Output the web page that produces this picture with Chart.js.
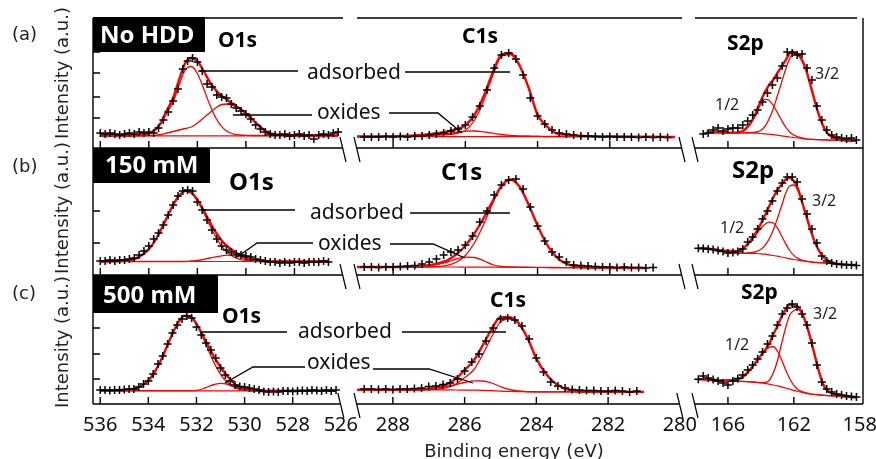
<!DOCTYPE html>
<html>
<head>
<meta charset="utf-8">
<title>XPS O1s / C1s / S2p</title>
<script src="https://cdn.jsdelivr.net/npm/chart.js@4.4.1/dist/chart.umd.min.js"></script>
<style>
  html, body { margin: 0; padding: 0; background: #fff; }
  #fig { position: relative; width: 876px; height: 459px; overflow: hidden; background: #fff; }
  #fig canvas { position: absolute; }
  #overlay { position: absolute; left: 0; top: 0; }
  #overlay text { font-family: "Noto Sans", sans-serif; fill: #000; }
  #overlay .box { fill: #fff; font-weight: bold; font-size: 24px; }
  #overlay .ttl { font-weight: bold; font-size: 21px; }
  #overlay .ttl.big { font-size: 24px; }
  #overlay .lbl { font-size: 21px; fill: #111; }
  #overlay .spin { font-size: 16px; fill: #222; }
  #overlay .row { font-family: "DejaVu Sans", sans-serif; font-size: 18px; fill: #222; }
  #overlay .axt { font-family: "DejaVu Sans", sans-serif; font-size: 18px; fill: #222; }
</style>
</head>
<body>
<div id="fig">
<svg id="overlay" width="876" height="459">
  <g stroke="#000" stroke-width="1.3" fill="none">
    <polyline points="200,71 298,71"/>
    <polyline points="405,72 510,72"/>
    <polyline points="233,115 312,115"/>
    <polyline points="389,113 438,113 462,133"/>
    <polyline points="202,210 295,210"/>
    <polyline points="410,213 510,213"/>
    <polyline points="237,257 257,243 313,243"/>
    <polyline points="390,244 433,244 465,258"/>
    <polyline points="200,332 287,332"/>
    <polyline points="402,332 506,332"/>
    <polyline points="225,383 253,367 305,367"/>
    <polyline points="373,369 429,369 473,383"/>
  </g>
  <rect x="93" y="17" width="112" height="35" fill="#000"/>
  <rect x="93" y="148" width="117" height="35" fill="#000"/>
  <rect x="93" y="275" width="125" height="38" fill="#000"/>
  <text class="box" x="100" y="43">No HDD</text>
  <text class="box" x="105" y="173">150 mM</text>
  <text class="box" x="103" y="303">500 mM</text>

  <text class="row" x="12" y="40">(a)</text>
  <text class="row" x="12" y="172">(b)</text>
  <text class="row" x="12" y="299">(c)</text>

  <text class="axt" transform="translate(68,73) rotate(-90)" text-anchor="middle">Intensity (a.u.)</text>
  <text class="axt" transform="translate(68,208) rotate(-90)" text-anchor="middle">Intensity (a.u.)</text>
  <text class="axt" transform="translate(68,342) rotate(-90)" text-anchor="middle">Intensity (a.u.)</text>
  <text class="axt" x="514" y="457" text-anchor="middle">Binding energy (eV)</text>

  <text class="ttl" x="218" y="47">O1s</text>
  <text class="ttl" x="462" y="43">C1s</text>
  <text class="ttl" x="727" y="50">S2p</text>
  <text class="ttl big" x="229" y="190">O1s</text>
  <text class="ttl big" x="441" y="180">C1s</text>
  <text class="ttl big" x="732" y="178">S2p</text>
  <text class="ttl" x="222" y="323">O1s</text>
  <text class="ttl" x="490" y="307">C1s</text>
  <text class="ttl" x="741" y="299">S2p</text>

  <text class="lbl" x="307" y="79">adsorbed</text>
  <text class="lbl" x="317" y="119">oxides</text>
  <text class="lbl" x="310" y="219">adsorbed</text>
  <text class="lbl" x="318" y="250">oxides</text>
  <text class="lbl" x="298" y="338">adsorbed</text>
  <text class="lbl" x="307" y="369">oxides</text>

  <text class="spin" x="715" y="110">1/2</text>
  <text class="spin" x="815" y="79">3/2</text>
  <text class="spin" x="720" y="233">1/2</text>
  <text class="spin" x="812" y="206">3/2</text>
  <text class="spin" x="725" y="350">1/2</text>
  <text class="spin" x="813" y="319">3/2</text>
</svg>
</div>
<script>
// tick values (eV) of the three broken x segments
const o1sTicks = [536, 534, 532, 530, 528, 526];
const c1sTicks = [288, 286, 284, 282, 280];
const s2pTicks = [166, 162, 158];

// inner y tick positions of each row (a.u.)
const yTicksA = [3, 5.1, 7.5, 9.6];
const yTicksB = [3.2, 6.4, 9.6];
const yTicksC = [2.5, 5.0, 7.6, 10.1];

// measured energies (eV)
const o1sE = [536.0, 535.8, 535.6, 535.4, 535.2, 535.0, 534.8, 534.6, 534.4, 534.2,
  534.0, 533.8, 533.6, 533.4, 533.2, 533.0, 532.8, 532.6, 532.4, 532.2,
  532.0, 531.8, 531.6, 531.4, 531.2, 531.0, 530.8, 530.6, 530.4, 530.2,
  530.0, 529.8, 529.6, 529.4, 529.2, 529.0, 528.8, 528.6, 528.4, 528.2,
  528.0, 527.8, 527.6, 527.4, 527.2, 527.0, 526.8, 526.6, 526.4, 526.2];
const c1sE = [288.8, 288.6, 288.4, 288.2, 288.0, 287.8, 287.6, 287.4, 287.2, 287.0,
  286.8, 286.6, 286.4, 286.2, 286.0, 285.8, 285.6, 285.4, 285.2, 285.0,
  284.8, 284.6, 284.4, 284.2, 284.0, 283.8, 283.6, 283.4, 283.2, 283.0,
  282.8, 282.6, 282.4, 282.2, 282.0, 281.8, 281.6, 281.4, 281.2, 281.0,
  280.8, 280.6, 280.4];
const s2pE = [167.8, 167.5, 167.2, 166.9, 166.6, 166.3, 166.0, 165.7, 165.4, 165.1, 164.8,
  164.5, 164.2, 163.9, 163.6, 163.3, 163.0, 162.7, 162.4, 162.1, 161.8,
  161.5, 161.2, 160.9, 160.6, 160.3, 160.0, 159.7, 159.4, 159.1, 158.8,
  158.5, 158.2];

// energies at which the fitted curves are given (eV)
const o1sFitE = [536, 535, 534.5, 534, 533.75, 533.5, 533.25, 533, 532.75, 532.5, 532.25, 532,
  531.75, 531.5, 531.25, 531, 530.75, 530.5, 530.25, 530, 529.75, 529.5, 529.25, 529,
  528.5, 528, 526.6, 526.2];
const c1sFitE = [289, 288, 287.5, 287, 286.5, 286.25, 286, 285.75, 285.5, 285.25, 285, 284.75,
  284.5, 284.25, 284, 283.75, 283.5, 283.25, 283, 282.5, 282, 281, 280.2];
const s2pFitE = [167.8, 167.3, 166.5, 165.5, 165, 164.5, 164.25, 164, 163.75, 163.5, 163.25, 163,
  162.75, 162.5, 162.25, 162, 161.75, 161.5, 161.25, 161, 160.75, 160.5, 160.25, 160,
  159.5, 159, 158.2];

// (a) No HDD
const aO1sData = [1.5, 1.4, 1.5, 1.4, 1.3, 1.4, 1.5, 1.4, 1.6, 1.5,
  1.6, 1.5, 2.0, 2.8, 3.6, 4.7, 5.9, 7.9, 8.7, 9.0,
  8.6, 7.7, 6.4, 6.1, 5.3, 5.1, 5.0, 4.4, 4.0, 3.7,
  3.4, 2.9, 2.3, 1.9, 1.6, 1.4, 1.3, 1.3, 1.4, 1.2,
  1.3, 1.4, 1.2, 1.3, 0.9, 1.3, 1.4, 1.3, 1.5, 1.6];
const aO1sAds = [1.25, 1.25, 1.27, 1.45, 1.78, 2.44, 3.55, 4.6, 6.3, 7.8, 8.15, 7.45, 6.0, 4.4,
  3.05, 2.13, 1.62, 1.38, 1.3, 1.27, 1.25, 1.25, 1.25, 1.25, 1.25, 1.25, 1.25, 1.25];
const aO1sOx = [1.25, 1.25, 1.25, 1.25, 1.27, 1.35, 1.5, 1.65, 1.8, 1.95, 2.1, 2.5, 3.0, 3.5,
  4.0, 4.35, 4.4, 4.2, 3.9, 3.45, 2.9, 2.3, 1.8, 1.45, 1.3, 1.25, 1.25, 1.25];
const aO1sFit = [1.25, 1.25, 1.27, 1.45, 1.8, 2.54, 3.8, 5.0, 6.85, 8.5, 9.0, 8.7, 7.75, 6.65,
  5.8, 5.23, 4.77, 4.33, 3.95, 3.47, 2.9, 2.3, 1.8, 1.45, 1.3, 1.25, 1.25, 1.25];
const aO1sBg = [1.22, 1.22, 1.22, 1.22, 1.22, 1.22, 1.22, 1.22, 1.22, 1.22, 1.22, 1.22, 1.22, 1.22,
  1.22, 1.22, 1.22, 1.22, 1.22, 1.22, 1.22, 1.22, 1.22, 1.22, 1.22, 1.22, 1.22, 1.22];

const aC1sData = [1.1, 1.1, 1.1, 1.15, 1.1, 1.15, 1.1, 1.2, 1.2, 1.3,
  1.4, 1.5, 1.7, 1.9, 2.3, 3.1, 4.2, 5.8, 8.0, 9.3,
  9.5, 8.9, 7.3, 5.0, 3.2, 2.4, 1.8, 1.5, 1.4, 1.3,
  1.2, 1.2, 1.15, 1.1, 1.15, 1.1, 1.1, 1.1, 1.05, 1.1,
  1.05, 1.1, 1.05];
const aC1sAds = [1.15, 1.17, 1.2, 1.25, 1.35, 1.45, 1.75, 2.75, 4.65, 7.15, 9.15, 9.35,
  8.2, 6.0, 3.3, 2.2, 1.5, 1.35, 1.25, 1.18, 1.15, 1.12, 1.1];
const aC1sOx = [1.15, 1.15, 1.18, 1.28, 1.45, 1.58, 1.68, 1.7, 1.62, 1.48, 1.35, 1.27,
  1.22, 1.2, 1.18, 1.15, 1.15, 1.15, 1.15, 1.15, 1.15, 1.12, 1.1];
const aC1sFit = [1.15, 1.17, 1.23, 1.38, 1.65, 1.88, 2.28, 3.3, 5.12, 7.48, 9.35, 9.47,
  8.27, 6.05, 3.33, 2.2, 1.5, 1.35, 1.25, 1.18, 1.15, 1.12, 1.1];
const aC1sBg = [1.13, 1.13, 1.13, 1.13, 1.13, 1.13, 1.13, 1.13, 1.13, 1.13, 1.13, 1.13,
  1.13, 1.13, 1.13, 1.13, 1.13, 1.13, 1.13, 1.13, 1.13, 1.12, 1.1];

const aS2pData = [null, 1.4, 1.5, 1.8, 2.0, 1.7, 1.9, 2.0, 2.0, 2.3, 2.7,
  3.3, 3.8, 4.6, 5.5, 6.3, 7.0, 8.2, 9.6, 9.5, 9.3,
  9.4, 8.0, 6.8, 4.2, 2.8, 1.8, 1.3, 1.1, 1.0, 0.9,
  1.0, 0.8];
const aS2p32 = [null, 1.6, 1.55, 1.5, 1.52, 1.55, 1.6, 1.78, 2.16, 2.93, 3.91, 5.23, 6.54, 7.85,
  8.95, 9.39, 9.28, 8.74, 7.77, 6.35, 4.83, 3.41, 2.33, 1.56, 0.96, 0.78, 0.72];
const aS2p12 = [null, 1.6, 1.55, 1.53, 1.78, 2.78, 3.6, 4.4, 4.87, 4.77, 4.25, 3.55, 2.8, 2.1,
  1.6, 1.3, 1.12, 1.0, 0.92, 0.87, 0.85, 0.83, 0.81, 0.8, 0.78, 0.76, 0.72];
const aS2pFit = [null, 1.6, 1.55, 1.53, 1.8, 2.83, 3.72, 4.73, 5.61, 6.32, 6.83, 7.5, 8.12, 8.79,
  9.45, 9.64, 9.4, 8.79, 7.79, 6.35, 4.83, 3.41, 2.33, 1.56, 0.96, 0.78, 0.72];
const aS2pBg = [null, 1.6, 1.55, 1.5, 1.5, 1.5, 1.48, 1.45, 1.42, 1.38, 1.33, 1.28, 1.22, 1.16,
  1.1, 1.05, 1.0, 0.95, 0.9, 0.87, 0.85, 0.83, 0.81, 0.8, 0.78, 0.76, 0.72];

// (b) 150 mM
const bO1sData = [1.4, 1.4, 1.5, 1.4, 1.5, 1.5, 1.6, 1.7, 2.0, 2.4,
  2.9, 3.6, 4.2, 5.0, 6.0, 7.0, 7.9, 8.4, 8.5, 8.4,
  7.3, 6.5, 5.5, 4.5, 3.6, 2.9, 2.5, 2.3, 2.1, 2.0,
  1.9, 1.8, 1.6, 1.5, 1.4, 1.3, 1.3, 1.2, 1.3, 1.2,
  1.3, 1.3, 1.2, 1.3, 1.3, 1.3, 1.4, 1.3, null, null];
const bO1sAds = [1.35, 1.41, 1.68, 2.59, 3.42, 4.52, 5.78, 7.01, 7.95, 8.39, 8.2, 7.43, 6.29, 5.02,
  3.84, 2.89, 2.22, 1.8, 1.56, 1.45, 1.39, 1.37, 1.35, 1.35, 1.35, 1.35, 1.35, null];
const bO1sOx = [1.35, 1.35, 1.35, 1.35, 1.35, 1.35, 1.35, 1.35, 1.35, 1.35, 1.4, 1.45, 1.55, 1.7,
  1.82, 1.92, 1.98, 1.95, 1.8, 1.6, 1.47, 1.4, 1.37, 1.35, 1.35, 1.35, 1.35, null];
const bO1sFit = [1.35, 1.41, 1.68, 2.59, 3.42, 4.52, 5.78, 7.01, 7.95, 8.39, 8.25, 7.53, 6.49, 5.37,
  4.31, 3.46, 2.85, 2.4, 2.01, 1.7, 1.51, 1.42, 1.37, 1.35, 1.35, 1.35, 1.35, null];
const bO1sBg = [1.35, 1.35, 1.35, 1.35, 1.35, 1.35, 1.35, 1.35, 1.35, 1.35, 1.35, 1.35, 1.35, 1.35,
  1.35, 1.35, 1.35, 1.35, 1.35, 1.35, 1.35, 1.35, 1.35, 1.35, 1.35, 1.35, 1.35, null];

const bC1sData = [0.8, 0.8, 0.75, 0.8, 0.8, 0.85, 0.9, 0.95, 1.1, 1.3,
  1.6, 2.0, 2.3, 2.5, 3.0, 3.9, 5.3, 6.4, 8.0, 9.0,
  9.5, 9.6, 8.6, 6.8, 4.9, 3.4, 2.3, 1.8, 1.3, 1.0,
  0.95, 0.9, 0.85, 0.8, 0.8, 0.75, 0.8, 0.75, 0.75, 0.7,
  0.75, null, null];
const bC1sAds = [0.8, 0.8, 0.8, 0.82, 0.97, 1.27, 1.95, 3.2, 5.0, 7.1, 8.85, 9.55,
  8.85, 7.05, 4.95, 3.1, 1.88, 1.2, 0.9, 0.75, 0.72, 0.7, null];
const bC1sOx = [0.8, 0.8, 0.82, 0.95, 1.3, 1.6, 1.78, 1.75, 1.45, 1.05, 0.85, 0.8,
  0.78, 0.77, 0.76, 0.75, 0.75, 0.74, 0.73, 0.72, 0.72, 0.7, null];
const bC1sFit = [0.8, 0.8, 0.82, 0.97, 1.47, 2.07, 2.93, 4.15, 5.65, 7.35, 8.9, 9.55,
  8.85, 7.05, 4.95, 3.1, 1.88, 1.2, 0.9, 0.75, 0.72, 0.7, null];
const bC1sBg = [0.8, 0.8, 0.8, 0.8, 0.8, 0.8, 0.79, 0.79, 0.78, 0.78, 0.78, 0.77,
  0.77, 0.76, 0.75, 0.75, 0.74, 0.74, 0.73, 0.72, 0.72, 0.7, null];

const bS2pData = [2.67, 2.65, 2.6, 2.55, 2.45, 2.35, 2.2, 2.25, 2.35, 2.6, 3.3,
  3.8, 4.6, 5.6, 6.4, 7.4, 8.4, 9.2, 9.8, 9.8, 9.3,
  7.6, 6.1, 4.6, 3.2, 1.9, 1.4, 1.2, 1.1, 1.05, 1.0,
  1.0, 0.95];
const bS2p32 = [2.67, 2.65, 2.45, 2.2, 2.18, 2.26, 2.37, 2.58, 2.97, 3.6, 4.5, 5.65, 6.88, 8.15,
  8.9, 9.0, 8.45, 7.24, 5.92, 4.57, 3.4, 2.51, 1.9, 1.52, 1.17, 1.06, 1.0];
const bS2p12 = [2.67, 2.65, 2.45, 2.38, 2.77, 3.62, 4.15, 4.68, 5.08, 5.28, 5.2, 4.71, 3.95, 3.14,
  2.45, 1.96, 1.66, 1.48, 1.38, 1.32, 1.27, 1.24, 1.21, 1.18, 1.12, 1.06, 1.0];
const bS2pFit = [2.67, 2.65, 2.45, 2.38, 2.78, 3.72, 4.38, 5.14, 5.97, 6.86, 7.75, 8.48, 9.03, 9.57,
  9.72, 9.41, 8.63, 7.3, 5.94, 4.58, 3.4, 2.51, 1.9, 1.52, 1.17, 1.06, 1.0];
const bS2pBg = [2.67, 2.65, 2.45, 2.2, 2.17, 2.17, 2.15, 2.12, 2.08, 2.02, 1.95, 1.88, 1.8, 1.72,
  1.63, 1.55, 1.48, 1.42, 1.36, 1.31, 1.27, 1.24, 1.21, 1.18, 1.12, 1.06, 1.0];

// (c) 500 mM
const cO1sData = [1.4, 1.4, 1.35, 1.4, 1.4, 1.45, 1.5, 1.5, 1.7, 2.0,
  2.3, 3.0, 4.0, 4.8, 6.0, 7.1, 7.9, 8.5, 8.8, 8.6,
  7.7, 6.9, 6.1, 5.4, 4.6, 3.6, 2.9, 2.3, 1.9, 1.75,
  1.7, 1.6, 1.5, 1.4, 1.25, 1.2, 1.25, 1.2, 1.3, 1.3,
  1.25, 1.3, 1.35, 1.3, 1.4, 1.35, 1.3, 1.4, 1.3, 1.4];
const cO1sAds = [1.33, 1.37, 1.57, 2.35, 3.15, 4.27, 5.63, 7.03, 8.19, 8.82, 8.75, 7.99, 6.76, 5.34,
  4.02, 2.96, 2.23, 1.78, 1.53, 1.41, 1.36, 1.34, 1.33, 1.33, 1.33, 1.33, 1.33, 1.33];
const cO1sOx = [1.33, 1.33, 1.33, 1.33, 1.33, 1.33, 1.33, 1.33, 1.33, 1.33, 1.33, 1.36, 1.5, 1.75,
  1.95, 2.07, 2.0, 1.75, 1.5, 1.4, 1.35, 1.33, 1.33, 1.33, 1.33, 1.33, 1.33, 1.33];
const cO1sFit = [1.33, 1.37, 1.57, 2.35, 3.15, 4.27, 5.63, 7.03, 8.19, 8.82, 8.75, 8.02, 6.93, 5.76,
  4.64, 3.7, 2.9, 2.2, 1.7, 1.48, 1.38, 1.34, 1.33, 1.33, 1.33, 1.33, 1.33, 1.33];
const cO1sBg = [1.31, 1.31, 1.31, 1.31, 1.31, 1.31, 1.31, 1.31, 1.31, 1.31, 1.31, 1.31, 1.31, 1.31,
  1.31, 1.31, 1.31, 1.31, 1.31, 1.31, 1.31, 1.31, 1.31, 1.31, 1.31, 1.31, 1.31, 1.31];

const cC1sData = [1.5, 1.5, 1.45, 1.5, 1.45, 1.5, 1.5, 1.55, 1.6, 1.75,
  1.8, 1.95, 2.1, 2.5, 3.3, 4.2, 5.0, 6.3, 7.6, 8.5,
  8.6, 8.4, 7.8, 6.5, 4.6, 3.2, 2.2, 1.8, 1.6, 1.45,
  1.4, 1.35, 1.35, 1.3, 1.3, 1.35, 1.3, 1.2, 1.3, null,
  null, null, null];
const cC1sAds = [1.42, 1.42, 1.42, 1.44, 1.63, 1.96, 2.64, 3.4, 4.9, 6.7, 8.21, 8.5,
  8.05, 6.6, 4.53, 3.1, 2.13, 1.6, 1.35, 1.22, 1.21, 1.21, null];
const cC1sOx = [1.42, 1.42, 1.42, 1.5, 1.75, 1.95, 2.15, 2.32, 2.3, 2.1, 1.75, 1.45,
  1.3, 1.24, 1.22, 1.21, 1.21, 1.21, 1.21, 1.21, 1.21, 1.21, null];
const cC1sFit = [1.42, 1.42, 1.42, 1.52, 1.97, 2.51, 3.4, 4.34, 5.84, 7.47, 8.67, 8.69,
  8.12, 6.62, 4.54, 3.1, 2.13, 1.6, 1.35, 1.22, 1.21, 1.21, null];
const cC1sBg = [1.42, 1.42, 1.42, 1.42, 1.41, 1.4, 1.39, 1.38, 1.36, 1.33, 1.29, 1.26,
  1.23, 1.22, 1.21, 1.21, 1.21, 1.21, 1.21, 1.21, 1.21, 1.21, null];

const cS2pData = [2.47, 2.8, 2.6, 2.45, 2.3, 2.1, 1.9, 2.3, 2.55, 2.9, 3.4,
  3.9, 4.5, 5.2, 6.0, 6.8, 7.9, 9.0, 9.6, 10.0, 9.7,
  9.0, 7.9, 6.1, 3.9, 2.2, 1.5, 1.2, 1.0, 0.9, 0.8,
  0.75, 0.7];
const cS2p32 = [2.45, 2.45, 2.35, 2.3, 2.25, 2.2, 2.17, 2.13, 2.15, 2.35, 3.1, 4.3, 6.0, 7.6,
  8.9, 9.35, 9.5, 9.0, 8.0, 6.6, 5.0, 3.4, 2.1, 1.4, 0.95, 0.78, 0.68];
const cS2p12 = [2.45, 2.45, 2.35, 2.45, 2.85, 3.75, 4.3, 4.85, 5.3, 5.65, 5.75, 5.3, 4.45, 3.43,
  2.52, 1.87, 1.46, 1.23, 1.1, 1.02, 0.96, 0.91, 0.88, 0.85, 0.8, 0.75, 0.68];
const cS2pFit = [2.5, 2.45, 2.35, 2.45, 2.85, 3.75, 4.3, 4.86, 5.39, 6.02, 6.95, 7.78, 8.73, 9.43,
  9.94, 9.86, 9.71, 9.08, 8.03, 6.62, 5.01, 3.4, 2.1, 1.4, 0.95, 0.78, 0.68];
const cS2pBg = [2.45, 2.45, 2.35, 2.3, 2.25, 2.2, 2.17, 2.12, 2.06, 1.98, 1.9, 1.82, 1.72, 1.6,
  1.48, 1.36, 1.25, 1.15, 1.07, 1.0, 0.95, 0.91, 0.88, 0.85, 0.8, 0.75, 0.68];

// layout of the figure
const PADX = 24, PADT = 12, XH = 44;
const RED = '#ff0000';

const panels = {
  o1s: { left: 93, width: 250, min: 526, max: 536.3, ticks: o1sTicks, dataE: o1sE, fitE: o1sFitE, yAxis: true, breakR: true },
  c1s: { left: 357, width: 325, min: 280, max: 289, ticks: c1sTicks, dataE: c1sE, fitE: c1sFitE, breakL: true, breakR: true },
  s2p: { left: 695, width: 168, min: 157.8, max: 168.0, ticks: s2pTicks, dataE: s2pE, fitE: s2pFitE, rightLine: true, breakL: true }
};

const rows = [
  { top: 18, bottom: 148, yTicks: yTicksA, labels: false, topLine: true,
    o1s: [aO1sData, aO1sAds, aO1sOx, aO1sFit, aO1sBg],
    c1s: [aC1sData, aC1sAds, aC1sOx, aC1sFit, aC1sBg],
    s2p: [aS2pData, aS2p32, aS2p12, aS2pFit, aS2pBg] },
  { top: 148, bottom: 275, yTicks: yTicksB, labels: false,
    o1s: [bO1sData, bO1sAds, bO1sOx, bO1sFit, bO1sBg],
    c1s: [bC1sData, bC1sAds, bC1sOx, bC1sFit, bC1sBg],
    s2p: [bS2pData, bS2p32, bS2p12, bS2pFit, bS2pBg] },
  { top: 275, bottom: 404, yTicks: yTicksC, labels: true,
    o1s: [cO1sData, cO1sAds, cO1sOx, cO1sFit, cO1sBg],
    c1s: [cC1sData, cC1sAds, cC1sOx, cC1sFit, cC1sBg],
    s2p: [cS2pData, cS2p32, cS2p12, cS2pFit, cS2pBg] }
];

const pts = (es, vs) => es.map((e, i) => ({ x: e, y: vs[i] }));

// axis lines, inward ticks and break marks
function axisDeco(p, row) {
  return {
    id: 'axisDeco',
    afterDraw(chart) {
      const { ctx, chartArea: a, scales: { x, y } } = chart;
      ctx.save();
      ctx.strokeStyle = '#000';
      ctx.lineWidth = 1.4;
      ctx.beginPath();
      ctx.moveTo(a.left, a.bottom);
      ctx.lineTo(a.right, a.bottom);
      p.ticks.forEach(v => {
        const px = x.getPixelForValue(v);
        if (px - a.left < 5 || a.right - px < 5) return;
        ctx.moveTo(px, a.bottom);
        ctx.lineTo(px, a.bottom - 7);
      });
      if (p.yAxis) {
        ctx.moveTo(a.left, a.top);
        ctx.lineTo(a.left, a.bottom);
        row.yTicks.forEach(v => {
          const py = y.getPixelForValue(v);
          ctx.moveTo(a.left, py);
          ctx.lineTo(a.left + 7, py);
        });
      }
      if (p.rightLine) {
        ctx.moveTo(a.right, a.top);
        ctx.lineTo(a.right, a.bottom);
      }
      if (row.topLine) {
        ctx.moveTo(a.left, a.top);
        ctx.lineTo(p.rightLine ? a.right - 6 : a.right, a.top);
      }
      ctx.stroke();
      ctx.lineWidth = 1.2;
      ctx.beginPath();
      const slash = px => { ctx.moveTo(px - 3, a.bottom - 11); ctx.lineTo(px + 3, a.bottom + 14); };
      if (p.breakL) slash(a.left);
      if (p.breakR) slash(a.right);
      ctx.stroke();
      ctx.restore();
    }
  };
}

const fig = document.getElementById('fig');
const overlay = document.getElementById('overlay');

rows.forEach(row => {
  const h = row.bottom - row.top;
  ['o1s', 'c1s', 's2p'].forEach(key => {
    const p = panels[key];
    const [data, comp1, comp2, fit, bg] = row[key];
    const canvas = document.createElement('canvas');
    const w = p.width + 2 * PADX, ch = PADT + h + XH;
    canvas.width = w;
    canvas.height = ch;
    canvas.style.left = (p.left - PADX) + 'px';
    canvas.style.top = (row.top - PADT) + 'px';
    canvas.style.width = w + 'px';
    canvas.style.height = ch + 'px';
    fig.insertBefore(canvas, overlay);

    const line = (vals, width) => ({
      type: 'line', data: pts(p.fitE, vals), borderColor: RED, borderWidth: width,
      pointRadius: 0, cubicInterpolationMode: 'monotone', fill: false, clip: false
    });

    new Chart(canvas, {
      type: 'line',
      data: {
        datasets: [
          { type: 'scatter', data: pts(p.dataE, data), showLine: false, pointStyle: 'cross',
            pointRadius: 4, pointBorderColor: '#000', pointBorderWidth: 1.5, borderColor: '#000', clip: false },
          line(fit, 2.4),
          line(comp1, 1.3),
          line(comp2, 1.3),
          line(bg, 1.2)
        ]
      },
      options: {
        responsive: false,
        animation: false,
        events: [],
        layout: { padding: { left: PADX, right: PADX, top: PADT, bottom: 0 } },
        plugins: { legend: { display: false }, tooltip: { enabled: false } },
        scales: {
          x: {
            type: 'linear', reverse: true, min: p.min, max: p.max,
            afterBuildTicks: s => { s.ticks = p.ticks.map(v => ({ value: v })); },
            afterFit: s => { s.height = XH; },
            grid: { display: false, drawTicks: false },
            border: { display: false },
            ticks: {
              display: row.labels, autoSkip: false, maxRotation: 0, padding: 9,
              color: '#111', font: { family: 'Noto Sans', size: 20 },
              callback: v => String(v)
            }
          },
          y: { display: false, min: 0, max: h / 10 }
        }
      },
      plugins: [axisDeco(p, row)]
    });
  });
});
</script>
</body>
</html>
